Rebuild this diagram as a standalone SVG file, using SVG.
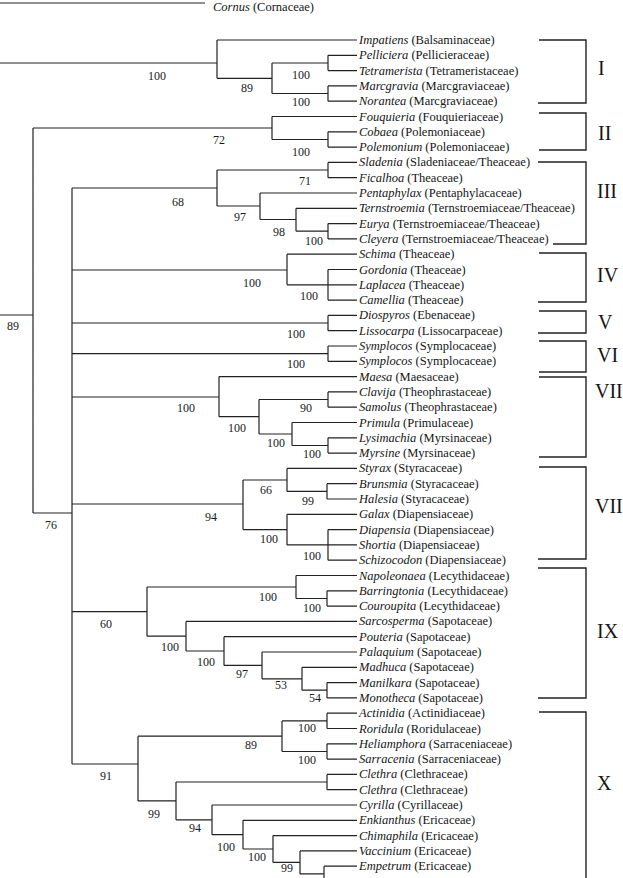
<svg xmlns="http://www.w3.org/2000/svg" width="623" height="878" viewBox="0 0 623 878">
<style>
.t{font-family:"Liberation Serif","Times New Roman",serif;font-size:12.5px;fill:#151515}
.t tspan{font-style:italic}
.b{font-family:"Liberation Serif","Times New Roman",serif;font-size:12px;fill:#1a1a1a}
.g{font-family:"Liberation Serif","Times New Roman",serif;font-size:20px;fill:#151515}
.e{fill:none;stroke:#222;stroke-width:1.2}
.k{fill:none;stroke:#222;stroke-width:1.4}
</style>
<rect width="623" height="878" fill="#fff"/>
<g id="connectors">
<path class="e" d="M0 3H205 M0 63H217 M0 315H33
M217 40V78.3 M217 40H357 M217 78.3H272 M272 63V93.5 M272 63H328 M272 93.5H328
M328 55.3V70.6 M328 55.3H357 M328 70.6H357 M328 85.9V101.2 M328 85.9H357 M328 101.2H357
M33 128V513 M33 128H272 M272 116.5V139.5 M272 116.5H357 M272 139.5H328 M328 131.8V147.1 M328 131.8H357 M328 147.1H357
M33 513H72 M72 188V764
M72 188H217 M217 170V206 M217 170H328 M328 162.4V177.7 M328 162.4H357 M328 177.7H357
M217 206H260 M260 193V219.5 M260 193H357 M260 219.5H296 M296 208.3V231.2 M296 208.3H357 M296 231.2H328 M328 223.6V238.9 M328 223.6H357 M328 238.9H357
M72 270H287 M287 254.2V284.8 M287 254.2H357 M287 284.8H328 M328 269.5V300.1 M328 269.5H357 M328 284.8H357 M328 300.1H357
M72 323H328 M328 315.4V330.7 M328 315.4H357 M328 330.7H357
M72 353.6H328 M328 346V361.3 M328 346H357 M328 361.3H357
M72 397H219 M219 376.6V416.7 M219 376.6H357 M219 416.7H259 M259 399.5V434 M259 399.5H328 M328 391.9V407.2 M328 391.9H357 M328 407.2H357
M259 434H292 M292 422.5V445.5 M292 422.5H357 M292 445.5H328 M328 437.8V453.1 M328 437.8H357 M328 453.1H357
M72 504H243 M243 480V529.6 M243 480H287 M287 468.4V491.4 M287 468.4H357 M287 491.4H327 M327 483.7V499 M327 483.7H357 M327 499H357
M243 529.6H287 M287 514.3V544.9 M287 514.3H357 M287 544.9H328 M328 529.6V560.2 M328 529.6H357 M328 544.9H357 M328 560.2H357
M72 611.6H147 M147 587V636.2 M147 587H296 M296 575.5V598.5 M296 575.5H357 M296 598.5H327 M327 590.8V606.1 M327 590.8H357 M327 606.1H357
M147 636.2H186 M186 621.4V651 M186 621.4H357 M186 651H224 M224 636.7V665.4 M224 636.7H357 M224 665.4H262 M262 652V678.8 M262 652H357
M262 678.8H302 M302 667.3V690.2 M302 667.3H357 M302 690.2H327 M327 682.6V697.9 M327 682.6H357 M327 697.9H357
M72 764H138 M138 736.2V800.9 M138 736.2H282 M282 720.9V751.5 M282 720.9H327 M327 713.2V728.5 M327 713.2H357 M327 728.5H357
M282 751.5H327 M327 743.8V759.1 M327 743.8H357 M327 759.1H357
M138 800.9H176 M176 782V819.8 M176 782H327 M327 774.4V789.7 M327 774.4H357 M327 789.7H357
M176 819.8H212 M212 805V834.7 M212 805H357 M212 834.7H243 M243 820.3V849 M243 820.3H357 M243 849H273 M273 835.6V862.4 M273 835.6H357
M273 862.4H300 M300 850.9V873.9 M300 850.9H357 M300 873.9H324 M324 866.2V882 M324 866.2H357"/>
</g>
<g id="brackets">
<path class="k" d="M539 40H586V103H538"/>
<path class="k" d="M539 113H586V150H539"/>
<path class="k" d="M538 162H586V244H553"/>
<path class="k" d="M539 253H586V302H538"/>
<path class="k" d="M539 311H586V333H538"/>
<path class="k" d="M539 341H586V372H539"/>
<path class="k" d="M539 377H586V457H539"/>
<path class="k" d="M539 467H586V559H538"/>
<path class="k" d="M538 568H586V698H538"/>
<path class="k" d="M539 712H586V880"/>
</g>
<g id="group-labels">
<text class="g" x="598" y="75">I</text>
<text class="g" x="598" y="140">II</text>
<text class="g" x="597" y="198">III</text>
<text class="g" x="597" y="282">IV</text>
<text class="g" x="598" y="329">V</text>
<text class="g" x="597" y="362">VI</text>
<text class="g" x="595" y="398" font-size="19.5">VII</text>
<text class="g" x="595" y="513" font-size="19.5">VII</text>
<text class="g" x="597" y="638">IX</text>
<text class="g" x="597" y="790">X</text>
</g>
<g id="support">
<text class="b" x="148" y="80">100</text>
<text class="b" x="241" y="92">89</text>
<text class="b" x="292" y="79">100</text>
<text class="b" x="292" y="106">100</text>
<text class="b" x="213" y="144">72</text>
<text class="b" x="292" y="156">100</text>
<text class="b" x="7" y="330">89</text>
<text class="b" x="45" y="529">76</text>
<text class="b" x="172" y="206">68</text>
<text class="b" x="299" y="185">71</text>
<text class="b" x="234" y="221">97</text>
<text class="b" x="273" y="236">98</text>
<text class="b" x="305" y="245">100</text>
<text class="b" x="243" y="287">100</text>
<text class="b" x="300" y="300">100</text>
<text class="b" x="287" y="338">100</text>
<text class="b" x="287" y="368">100</text>
<text class="b" x="177" y="412">100</text>
<text class="b" x="300" y="412">90</text>
<text class="b" x="228" y="432">100</text>
<text class="b" x="267" y="447">100</text>
<text class="b" x="303" y="458">100</text>
<text class="b" x="205" y="521">94</text>
<text class="b" x="260" y="494">66</text>
<text class="b" x="302" y="505">99</text>
<text class="b" x="260" y="543">100</text>
<text class="b" x="303" y="560">100</text>
<text class="b" x="100" y="628">60</text>
<text class="b" x="259" y="601">100</text>
<text class="b" x="303" y="612">100</text>
<text class="b" x="161" y="651">100</text>
<text class="b" x="197" y="666">100</text>
<text class="b" x="236" y="678">97</text>
<text class="b" x="275" y="689">53</text>
<text class="b" x="309" y="702">54</text>
<text class="b" x="100" y="780">91</text>
<text class="b" x="245" y="749">89</text>
<text class="b" x="298" y="732">100</text>
<text class="b" x="298" y="764">100</text>
<text class="b" x="148" y="818">99</text>
<text class="b" x="189" y="832">94</text>
<text class="b" x="217" y="851">100</text>
<text class="b" x="248" y="861">100</text>
<text class="b" x="281" y="872">99</text>
</g>
<g id="taxa">
<g id="cornus"><text class="t" x="213" y="10.5"><tspan>Cornus</tspan> (Cornaceae)</text></g>
<g id="t00"><text class="t" x="359" y="44"><tspan>Impatiens</tspan> (Balsaminaceae)</text></g>
<g id="t01"><text class="t" x="359" y="59.3"><tspan>Pelliciera</tspan> (Pellicieraceae)</text></g>
<g id="t02"><text class="t" x="359" y="74.6"><tspan>Tetramerista</tspan> (Tetrameristaceae)</text></g>
<g id="t03"><text class="t" x="359" y="89.9"><tspan>Marcgravia</tspan> (Marcgraviaceae)</text></g>
<g id="t04"><text class="t" x="359" y="105.2"><tspan>Norantea</tspan> (Marcgraviaceae)</text></g>
<g id="t05"><text class="t" x="359" y="120.5"><tspan>Fouquieria</tspan> (Fouquieriaceae)</text></g>
<g id="t06"><text class="t" x="359" y="135.8"><tspan>Cobaea</tspan> (Polemoniaceae)</text></g>
<g id="t07"><text class="t" x="359" y="151.1"><tspan>Polemonium</tspan> (Polemoniaceae)</text></g>
<g id="t08"><text class="t" x="359" y="166.4"><tspan>Sladenia</tspan> (Sladeniaceae/Theaceae)</text></g>
<g id="t09"><text class="t" x="359" y="181.7"><tspan>Ficalhoa</tspan> (Theaceae)</text></g>
<g id="t10"><text class="t" x="359" y="197"><tspan>Pentaphylax</tspan> (Pentaphylacaceae)</text></g>
<g id="t11"><text class="t" x="359" y="212.3"><tspan>Ternstroemia</tspan> (Ternstroemiaceae/Theaceae)</text></g>
<g id="t12"><text class="t" x="359" y="227.6"><tspan>Eurya</tspan> (Ternstroemiaceae/Theaceae)</text></g>
<g id="t13"><text class="t" x="359" y="242.9"><tspan>Cleyera</tspan> (Ternstroemiaceae/Theaceae)</text></g>
<g id="t14"><text class="t" x="359" y="258.2"><tspan>Schima</tspan> (Theaceae)</text></g>
<g id="t15"><text class="t" x="359" y="273.5"><tspan>Gordonia</tspan> (Theaceae)</text></g>
<g id="t16"><text class="t" x="359" y="288.8"><tspan>Laplacea</tspan> (Theaceae)</text></g>
<g id="t17"><text class="t" x="359" y="304.1"><tspan>Camellia</tspan> (Theaceae)</text></g>
<g id="t18"><text class="t" x="359" y="319.4"><tspan>Diospyros</tspan> (Ebenaceae)</text></g>
<g id="t19"><text class="t" x="359" y="334.7"><tspan>Lissocarpa</tspan> (Lissocarpaceae)</text></g>
<g id="t20"><text class="t" x="359" y="350"><tspan>Symplocos</tspan> (Symplocaceae)</text></g>
<g id="t21"><text class="t" x="359" y="365.3"><tspan>Symplocos</tspan> (Symplocaceae)</text></g>
<g id="t22"><text class="t" x="359" y="380.6"><tspan>Maesa</tspan> (Maesaceae)</text></g>
<g id="t23"><text class="t" x="359" y="395.9"><tspan>Clavija</tspan> (Theophrastaceae)</text></g>
<g id="t24"><text class="t" x="359" y="411.2"><tspan>Samolus</tspan> (Theophrastaceae)</text></g>
<g id="t25"><text class="t" x="359" y="426.5"><tspan>Primula</tspan> (Primulaceae)</text></g>
<g id="t26"><text class="t" x="359" y="441.8"><tspan>Lysimachia</tspan> (Myrsinaceae)</text></g>
<g id="t27"><text class="t" x="359" y="457.1"><tspan>Myrsine</tspan> (Myrsinaceae)</text></g>
<g id="t28"><text class="t" x="359" y="472.4"><tspan>Styrax</tspan> (Styracaceae)</text></g>
<g id="t29"><text class="t" x="359" y="487.7"><tspan>Brunsmia</tspan> (Styracaceae)</text></g>
<g id="t30"><text class="t" x="359" y="503"><tspan>Halesia</tspan> (Styracaceae)</text></g>
<g id="t31"><text class="t" x="359" y="518.3"><tspan>Galax</tspan> (Diapensiaceae)</text></g>
<g id="t32"><text class="t" x="359" y="533.6"><tspan>Diapensia</tspan> (Diapensiaceae)</text></g>
<g id="t33"><text class="t" x="359" y="548.9"><tspan>Shortia</tspan> (Diapensiaceae)</text></g>
<g id="t34"><text class="t" x="359" y="564.2"><tspan>Schizocodon</tspan> (Diapensiaceae)</text></g>
<g id="t35"><text class="t" x="359" y="579.5"><tspan>Napoleonaea</tspan> (Lecythidaceae)</text></g>
<g id="t36"><text class="t" x="359" y="594.8"><tspan>Barringtonia</tspan> (Lecythidaceae)</text></g>
<g id="t37"><text class="t" x="359" y="610.1"><tspan>Couroupita</tspan> (Lecythidaceae)</text></g>
<g id="t38"><text class="t" x="359" y="625.4"><tspan>Sarcosperma</tspan> (Sapotaceae)</text></g>
<g id="t39"><text class="t" x="359" y="640.7"><tspan>Pouteria</tspan> (Sapotaceae)</text></g>
<g id="t40"><text class="t" x="359" y="656"><tspan>Palaquium</tspan> (Sapotaceae)</text></g>
<g id="t41"><text class="t" x="359" y="671.3"><tspan>Madhuca</tspan> (Sapotaceae)</text></g>
<g id="t42"><text class="t" x="359" y="686.6"><tspan>Manilkara</tspan> (Sapotaceae)</text></g>
<g id="t43"><text class="t" x="359" y="701.9"><tspan>Monotheca</tspan> (Sapotaceae)</text></g>
<g id="t44"><text class="t" x="359" y="717.2"><tspan>Actinidia</tspan> (Actinidiaceae)</text></g>
<g id="t45"><text class="t" x="359" y="732.5"><tspan>Roridula</tspan> (Roridulaceae)</text></g>
<g id="t46"><text class="t" x="359" y="747.8"><tspan>Heliamphora</tspan> (Sarraceniaceae)</text></g>
<g id="t47"><text class="t" x="359" y="763.1"><tspan>Sarracenia</tspan> (Sarraceniaceae)</text></g>
<g id="t48"><text class="t" x="359" y="778.4"><tspan>Clethra</tspan> (Clethraceae)</text></g>
<g id="t49"><text class="t" x="359" y="793.7"><tspan>Clethra</tspan> (Clethraceae)</text></g>
<g id="t50"><text class="t" x="359" y="809"><tspan>Cyrilla</tspan> (Cyrillaceae)</text></g>
<g id="t51"><text class="t" x="359" y="824.3"><tspan>Enkianthus</tspan> (Ericaceae)</text></g>
<g id="t52"><text class="t" x="359" y="839.6"><tspan>Chimaphila</tspan> (Ericaceae)</text></g>
<g id="t53"><text class="t" x="359" y="854.9"><tspan>Vaccinium</tspan> (Ericaceae)</text></g>
<g id="t54"><text class="t" x="359" y="870.2"><tspan>Empetrum</tspan> (Ericaceae)</text></g>
</g>
</svg>
